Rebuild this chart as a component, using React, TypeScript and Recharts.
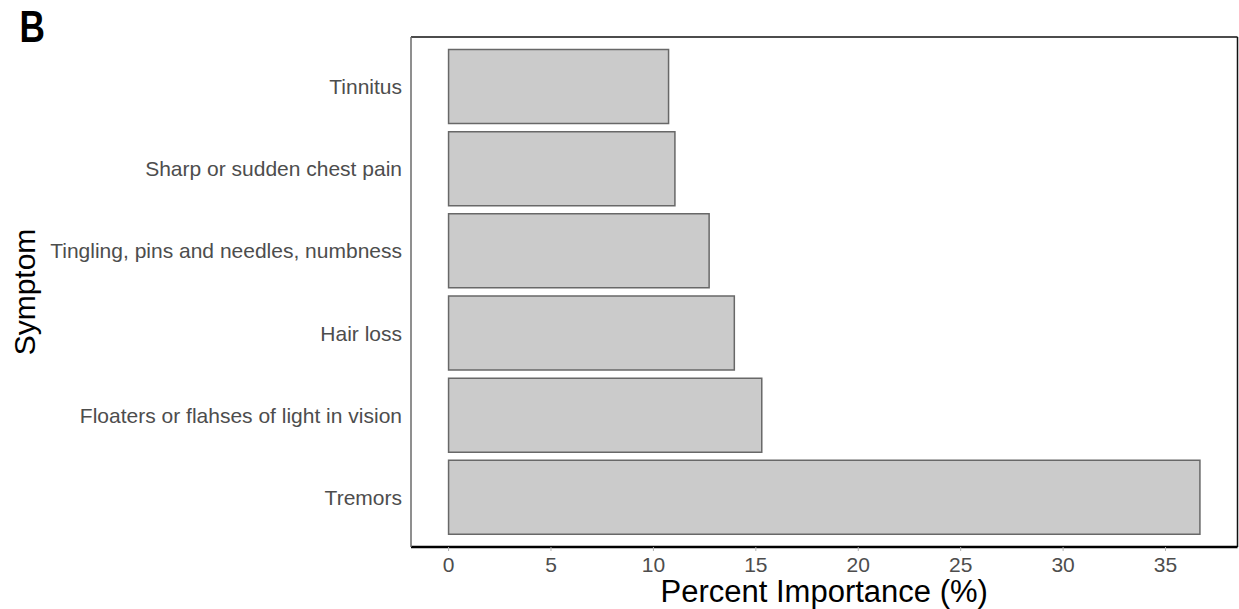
import React from 'react';
import { BarChart, Bar, XAxis, YAxis } from 'recharts';

const symptoms = [
  'Tinnitus',
  'Sharp or sudden chest pain',
  'Tingling, pins and needles, numbness',
  'Hair loss',
  'Floaters or flahses of light in vision',
  'Tremors',
];
const importance = [10.74, 11.05, 12.72, 13.95, 15.29, 36.68];
const xTicks = [0, 5, 10, 15, 20, 25, 30, 35];

const data = symptoms.map((s, i) => ({ symptom: s, value: importance[i] }));

const maxV = Math.max(...importance);
const expand = maxV * 0.05;
const domain: [number, number] = [-expand, maxV + expand];

const FONT = '"Liberation Sans", Arial, Helvetica, sans-serif';

export default function App() {
  return (
    <div style={{ position: 'absolute', left: 0, top: 0, width: 1239, height: 609, background: '#fff' }}>
      <BarChart
        width={1239}
        height={609}
        data={data}
        layout="vertical"
        margin={{ top: 36, right: 0, bottom: 0, left: 0 }}
        style={{ fontFamily: FONT }}
      >
        <XAxis
          xAxisId="top"
          orientation="top"
          type="number"
          domain={domain}
          allowDataOverflow
          height={1}
          tick={false}
          tickLine={false}
          axisLine={{ stroke: '#111', strokeWidth: 1.5 }}
        />
        <YAxis
          yAxisId="right"
          orientation="right"
          type="category"
          dataKey="symptom"
          width={1.5}
          tick={false}
          tickLine={false}
          axisLine={{ stroke: '#111', strokeWidth: 1.5 }}
        />
        <XAxis
          type="number"
          dataKey="value"
          domain={domain}
          ticks={xTicks}
          allowDataOverflow
          height={62}
          axisLine={{ stroke: '#000', strokeWidth: 2.5 }}
          tickLine={{ stroke: '#b0b0b0', strokeWidth: 1 }}
          tickSize={4}
          tickMargin={6}
          tick={{ fill: '#4d4d4d', fontSize: 21, fontFamily: FONT }}
          label={{ value: 'Percent Importance (%)', position: 'insideBottom', offset: 7, fill: '#000', fontSize: 31, fontFamily: FONT }}
        />
        <YAxis
          type="category"
          dataKey="symptom"
          width={411}
          padding={{ top: 8.5, bottom: 8.5 }}
          axisLine={{ stroke: '#6a6a6a', strokeWidth: 1.5 }}
          tickLine={false}
          tickSize={0}
          tickMargin={9}
          interval={0}
          tick={{ fill: '#4d4d4d', fontSize: 21, fontFamily: FONT }}
          label={{ value: 'Symptom', angle: -90, position: 'insideLeft', offset: 24, fill: '#000', fontSize: 30, fontFamily: FONT, style: { textAnchor: 'middle' } }}
        />
        <Bar dataKey="value" fill="#cbcbcb" stroke="#686868" strokeWidth={1.5} barSize={74} isAnimationActive={false} />
      </BarChart>
      <svg width={80} height={60} style={{ position: 'absolute', left: 0, top: 0 }}>
        <text transform="translate(19.5,41.7) scale(0.8,1)" x={0} y={0} fontFamily={FONT} fontWeight="bold" fontSize={44} fill="#000">B</text>
      </svg>
    </div>
  );
}
